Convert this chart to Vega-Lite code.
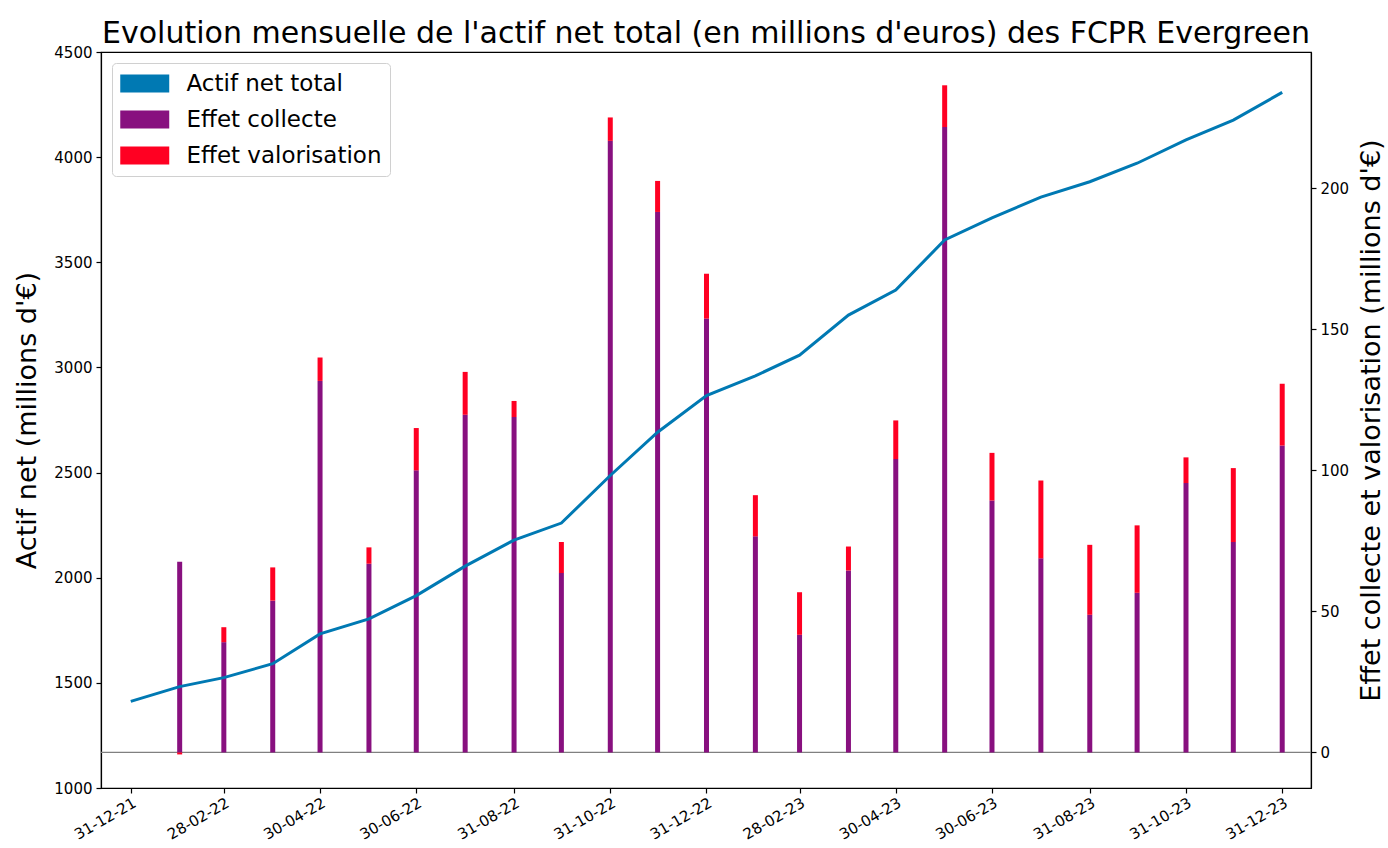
{
  "$schema": "https://vega.github.io/schema/vega-lite/v6.json",
  "autosize": {"type": "none"},
  "width": 1210,
  "height": 736,
  "padding": {"left": 101, "top": 52, "right": 77, "bottom": 60},
  "background": "white",
  "title": {"text": "Evolution mensuelle de l'actif net total (en millions d'euros) des FCPR Evergreen", "fontSize": 30, "font": "DejaVu Sans", "fontWeight": "normal", "anchor": "middle", "offset": -4, "color": "black"},
  "datasets": {
    "actif": [
      {"date": "2021-12-31", "actif": 1412},
      {"date": "2022-01-31", "actif": 1482},
      {"date": "2022-02-28", "actif": 1525},
      {"date": "2022-03-31", "actif": 1591},
      {"date": "2022-04-30", "actif": 1733},
      {"date": "2022-05-31", "actif": 1804},
      {"date": "2022-06-30", "actif": 1915},
      {"date": "2022-07-31", "actif": 2055},
      {"date": "2022-08-31", "actif": 2179},
      {"date": "2022-09-30", "actif": 2260},
      {"date": "2022-10-31", "actif": 2486},
      {"date": "2022-11-30", "actif": 2692},
      {"date": "2022-12-31", "actif": 2866},
      {"date": "2023-01-31", "actif": 2960},
      {"date": "2023-02-28", "actif": 3058},
      {"date": "2023-03-31", "actif": 3249},
      {"date": "2023-04-30", "actif": 3368},
      {"date": "2023-05-31", "actif": 3606},
      {"date": "2023-06-30", "actif": 3711},
      {"date": "2023-07-31", "actif": 3810},
      {"date": "2023-08-31", "actif": 3883},
      {"date": "2023-09-30", "actif": 3971},
      {"date": "2023-10-31", "actif": 4082},
      {"date": "2023-11-30", "actif": 4176},
      {"date": "2023-12-31", "actif": 4308}
    ],
    "effets": [
      {"date": "2022-01-31", "type": "Effet collecte", "value": 67.6},
      {"date": "2022-01-31", "type": "Effet valorisation", "value": -0.7},
      {"date": "2022-02-28", "type": "Effet collecte", "value": 39.1},
      {"date": "2022-02-28", "type": "Effet valorisation", "value": 5.3},
      {"date": "2022-03-31", "type": "Effet collecte", "value": 53.8},
      {"date": "2022-03-31", "type": "Effet valorisation", "value": 11.8},
      {"date": "2022-04-30", "type": "Effet collecte", "value": 131.7},
      {"date": "2022-04-30", "type": "Effet valorisation", "value": 8.3},
      {"date": "2022-05-31", "type": "Effet collecte", "value": 66.9},
      {"date": "2022-05-31", "type": "Effet valorisation", "value": 5.8},
      {"date": "2022-06-30", "type": "Effet collecte", "value": 100.0},
      {"date": "2022-06-30", "type": "Effet valorisation", "value": 15.0},
      {"date": "2022-07-31", "type": "Effet collecte", "value": 119.7},
      {"date": "2022-07-31", "type": "Effet valorisation", "value": 15.2},
      {"date": "2022-08-31", "type": "Effet collecte", "value": 118.9},
      {"date": "2022-08-31", "type": "Effet valorisation", "value": 5.7},
      {"date": "2022-09-30", "type": "Effet collecte", "value": 63.6},
      {"date": "2022-09-30", "type": "Effet valorisation", "value": 11.0},
      {"date": "2022-10-31", "type": "Effet collecte", "value": 216.8},
      {"date": "2022-10-31", "type": "Effet valorisation", "value": 8.3},
      {"date": "2022-11-30", "type": "Effet collecte", "value": 191.6},
      {"date": "2022-11-30", "type": "Effet valorisation", "value": 11.0},
      {"date": "2022-12-31", "type": "Effet collecte", "value": 153.8},
      {"date": "2022-12-31", "type": "Effet valorisation", "value": 15.9},
      {"date": "2023-01-31", "type": "Effet collecte", "value": 76.6},
      {"date": "2023-01-31", "type": "Effet valorisation", "value": 14.6},
      {"date": "2023-02-28", "type": "Effet collecte", "value": 41.7},
      {"date": "2023-02-28", "type": "Effet valorisation", "value": 15.1},
      {"date": "2023-03-31", "type": "Effet collecte", "value": 64.5},
      {"date": "2023-03-31", "type": "Effet valorisation", "value": 8.5},
      {"date": "2023-04-30", "type": "Effet collecte", "value": 104.0},
      {"date": "2023-04-30", "type": "Effet valorisation", "value": 13.7},
      {"date": "2023-05-31", "type": "Effet collecte", "value": 221.7},
      {"date": "2023-05-31", "type": "Effet valorisation", "value": 14.8},
      {"date": "2023-06-30", "type": "Effet collecte", "value": 89.3},
      {"date": "2023-06-30", "type": "Effet valorisation", "value": 16.9},
      {"date": "2023-07-31", "type": "Effet collecte", "value": 68.8},
      {"date": "2023-07-31", "type": "Effet valorisation", "value": 27.6},
      {"date": "2023-08-31", "type": "Effet collecte", "value": 48.8},
      {"date": "2023-08-31", "type": "Effet valorisation", "value": 24.8},
      {"date": "2023-09-30", "type": "Effet collecte", "value": 56.6},
      {"date": "2023-09-30", "type": "Effet valorisation", "value": 23.9},
      {"date": "2023-10-31", "type": "Effet collecte", "value": 95.5},
      {"date": "2023-10-31", "type": "Effet valorisation", "value": 9.1},
      {"date": "2023-11-30", "type": "Effet collecte", "value": 74.6},
      {"date": "2023-11-30", "type": "Effet valorisation", "value": 26.2},
      {"date": "2023-12-31", "type": "Effet collecte", "value": 108.8},
      {"date": "2023-12-31", "type": "Effet valorisation", "value": 21.9}
    ]
  },
  "layer": [
    {
      "layer": [
        {
          "data": {"values": [{"zero": 0}]},
          "mark": {"type": "rule", "color": "#808080", "strokeWidth": 1.2},
          "encoding": {"y": {"field": "zero", "type": "quantitative"}}
        },
        {
          "data": {"name": "effets"},
          "mark": {"type": "bar", "size": 5},
          "encoding": {
            "x": {
              "field": "date", "type": "temporal",
              "scale": {"type": "utc", "domain": [{"year": 2021, "month": 12, "date": 15, "hours": 7, "utc": true}, {"year": 2024, "month": 1, "date": 15, "hours": 2, "utc": true}]},
              "axis": {
                "title": null, "grid": false, "format": "%d-%m-%y", "labelAngle": -30, "labelAlign": "right", "labelBaseline": "top", "labelPadding": 2,
                "values": [
                  {"year": 2021, "month": 12, "date": 31, "utc": true},
                  {"year": 2022, "month": 2, "date": 28, "utc": true},
                  {"year": 2022, "month": 4, "date": 30, "utc": true},
                  {"year": 2022, "month": 6, "date": 30, "utc": true},
                  {"year": 2022, "month": 8, "date": 31, "utc": true},
                  {"year": 2022, "month": 10, "date": 31, "utc": true},
                  {"year": 2022, "month": 12, "date": 31, "utc": true},
                  {"year": 2023, "month": 2, "date": 28, "utc": true},
                  {"year": 2023, "month": 4, "date": 30, "utc": true},
                  {"year": 2023, "month": 6, "date": 30, "utc": true},
                  {"year": 2023, "month": 8, "date": 31, "utc": true},
                  {"year": 2023, "month": 10, "date": 31, "utc": true},
                  {"year": 2023, "month": 12, "date": 31, "utc": true}
                ]
              }
            },
            "y": {
              "field": "value", "type": "quantitative", "stack": "zero",
              "scale": {"domain": [-12.6, 248.3], "nice": false, "zero": false},
              "axis": {"orient": "right", "values": [0, 50, 100, 150, 200], "grid": false, "title": "Effet collecte et valorisation (millions d'€)", "titleAngle": 270, "titleBaseline": "top", "titlePadding": 10}
            },
            "color": {
              "field": "type", "type": "nominal",
              "scale": {"domain": ["Actif net total", "Effet collecte", "Effet valorisation"], "range": ["#0079B3", "#88107F", "#FF0022"]},
              "legend": {
                "title": null, "orient": "top-left", "offset": 11, "padding": 8,
                "fillColor": "white", "strokeColor": "#d0d0d0", "cornerRadius": 4,
                "symbolType": "M-1,-0.734H3V0.734H-1Z", "symbolSize": 600, "symbolStrokeWidth": 0, "symbolOpacity": 1,
                "labelFontSize": 23, "labelFont": "DejaVu Sans", "labelColor": "black", "labelOffset": 41.5, "rowPadding": 11,
                "labelLimit": 400,
                "encode": {"symbols": {"update": {"fill": {"scale": "color", "field": "value"}, "stroke": {"value": "transparent"}}}}
              }
            },
            "order": {"field": "type", "sort": "ascending"}
          }
        }
      ]
    },
    {
      "data": {"name": "actif"},
      "mark": {"type": "line", "strokeWidth": 3},
      "encoding": {
        "x": {
          "field": "date", "type": "temporal",
          "scale": {"type": "utc", "domain": [{"year": 2021, "month": 12, "date": 15, "hours": 7, "utc": true}, {"year": 2024, "month": 1, "date": 15, "hours": 2, "utc": true}]}
        },
        "y": {
          "field": "actif", "type": "quantitative",
          "scale": {"domain": [1000, 4500], "nice": false, "zero": false},
          "axis": {"orient": "left", "values": [1000, 1500, 2000, 2500, 3000, 3500, 4000, 4500], "grid": false, "format": "d", "title": "Actif net (millions d'€)", "titlePadding": 12}
        },
        "color": {"datum": "Actif net total"}
      }
    }
  ],
  "resolve": {"scale": {"y": "independent"}},
  "config": {
    "view": {"stroke": "black", "strokeWidth": 1.2},
    "font": "DejaVu Sans",
    "axis": {
      "labelFont": "DejaVu Sans", "labelFontSize": 15, "labelColor": "black",
      "titleFont": "DejaVu Sans", "titleFontSize": 27, "titleFontWeight": "normal", "titleColor": "black",
      "domainColor": "black", "domainWidth": 1.2, "tickColor": "black", "tickWidth": 1.2, "tickSize": 5, "labelPadding": 4
    }
  }
}
